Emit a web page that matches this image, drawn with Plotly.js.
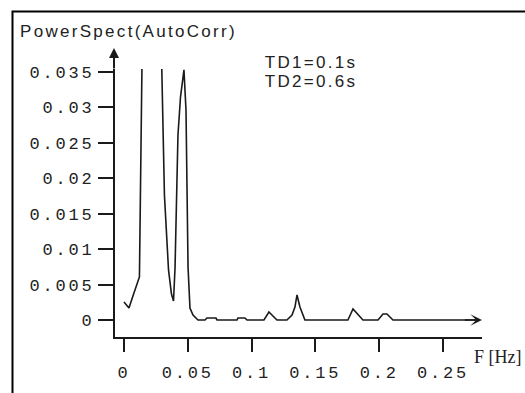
<!DOCTYPE html>
<html>
<head>
<meta charset="utf-8">
<script src="https://cdn.plot.ly/plotly-3.0.1.min.js"></script>
<style>
  html, body { margin: 0; padding: 0; background: #ffffff; }
  #chart { width: 525px; height: 393px; }
  .xtick text, .ytick text { letter-spacing: 2.8px; }
  .annotation[data-index="0"] text,
  .annotation[data-index="1"] text,
  .annotation[data-index="2"] text { letter-spacing: 2.3px; }
</style>
</head>
<body>
<div id="chart"></div>
<script>
// ---- data ----
const freq = [0, 0.0039, 0.0078, 0.0121, 0.0157, 0.0196, 0.0235, 0.0270, 0.0317, 0.0349,
              0.0372, 0.0388, 0.0400, 0.0423, 0.0443, 0.0455, 0.0470, 0.0486, 0.0502, 0.0517,
              0.0541, 0.0580, 0.0635, 0.0650, 0.0721, 0.0729, 0.0886, 0.0893, 0.0948, 0.0964,
              0.1097, 0.1136, 0.1199, 0.1277, 0.1317, 0.1340, 0.1356, 0.1379, 0.1403, 0.1418,
              0.1755, 0.1795, 0.1873, 0.1991, 0.2030, 0.2061, 0.2108, 0.2760];
const power = [0.00254, 0.00169, 0.00381, 0.00607, 0.060, 0.085, 0.070, 0.058, 0.0176, 0.00706,
               0.00367, 0.00268, 0.00734, 0.0261, 0.0315, 0.0332, 0.0353, 0.0296, 0.00748, 0.0017,
               0.0007, 0, 0, 0.00028, 0.00028, 0, 0, 0.00028, 0.00028, 0,
               0, 0.00113, 0, 0, 0.0007, 0.00183, 0.00353, 0.00183, 0.0007, 0,
               0, 0.00155, 0, 0, 0.00085, 0.00085, 0, 0];

const xTickVals = [0, 0.05, 0.1, 0.15, 0.2, 0.25];
const xTickText = ["0", "0.05", "0.1", "0.15", "0.2", "0.25"];
const yTickVals = [0, 0.005, 0.01, 0.015, 0.02, 0.025, 0.03, 0.035];
const yTickText = ["0", "0.005", "0.01", "0.015", "0.02", "0.025", "0.03", "0.035"];

const chartTitle = "PowerSpect(AutoCorr)";
const noteLines = ["TD1=0.1s", "TD2=0.6s"];
const xLabel = "F [Hz]";

// ---- layout ----
const ink = "#1a1a1a";
const monoFont = { family: "Liberation Mono, DejaVu Sans Mono, monospace", size: 17, color: "#222" };
const sansFont = { family: "Liberation Sans, Arial, sans-serif", size: 17, color: "#222" };

const trace = {
  x: freq, y: power, type: "scatter", mode: "lines",
  line: { color: ink, width: 1.6 },
  hoverinfo: "skip", showlegend: false
};

const layout = {
  width: 525, height: 393,
  margin: { l: 115, r: 43, t: 69, b: 56, pad: 0 },
  paper_bgcolor: "#ffffff", plot_bgcolor: "#ffffff",
  showlegend: false,
  xaxis: {
    range: [-0.00705, 0.2806],
    showline: true, linecolor: ink, linewidth: 2,
    ticks: "outside", ticklen: 13, tickwidth: 2, tickcolor: ink,
    tickvals: xTickVals, ticktext: xTickText,
    tickfont: monoFont, ticklabelstandoff: 6,
    showgrid: false, zeroline: false, fixedrange: true
  },
  yaxis: {
    range: [-0.0024, 0.03542],
    showline: true, linecolor: ink, linewidth: 2,
    ticks: "outside", ticklen: 15, tickwidth: 2, tickcolor: ink,
    tickvals: yTickVals, ticktext: yTickText,
    tickfont: monoFont,
    showgrid: false, zeroline: false, fixedrange: true
  },
  shapes: [
    { type: "rect", xref: "paper", yref: "paper", x0: -0.2793, x1: 1.3, y0: -0.4, y1: 1.2146,
      line: { color: "#000", width: 2 }, fillcolor: "rgba(0,0,0,0)", layer: "above" }
  ],
  annotations: [
    { text: chartTitle, xref: "paper", yref: "paper", x: -0.2016, y: 1.1381,
      xanchor: "left", yanchor: "middle", showarrow: false, font: sansFont },
    { text: noteLines[0], xref: "paper", yref: "paper", x: 0.4278, y: 1.0261,
      xanchor: "left", yanchor: "middle", showarrow: false, font: sansFont },
    { text: noteLines[1], xref: "paper", yref: "paper", x: 0.4278, y: 0.9515,
      xanchor: "left", yanchor: "middle", showarrow: false, font: sansFont },
    { text: xLabel, xref: "paper", yref: "paper", x: 0.9728, y: -0.0746,
      xanchor: "left", yanchor: "middle", showarrow: false,
      font: { family: "Liberation Serif, Times New Roman, serif", size: 18, color: "#222" } },
    { text: "", xref: "paper", yref: "paper", x: -0.0027, y: 1.0784,
      showarrow: true, ax: 0, ay: 22, arrowhead: 2, arrowsize: 1, arrowwidth: 2, arrowcolor: ink },
    { text: "", xref: "x", yref: "y", axref: "x", ayref: "y", x: 0.2806, y: 0, ax: 0.266, ay: 0,
      showarrow: true, arrowhead: 3, arrowsize: 1.3, arrowwidth: 1.5, arrowcolor: ink }
  ]
};

Plotly.newPlot("chart", [trace], layout, { staticPlot: true, displayModeBar: false });
</script>
</body>
</html>
